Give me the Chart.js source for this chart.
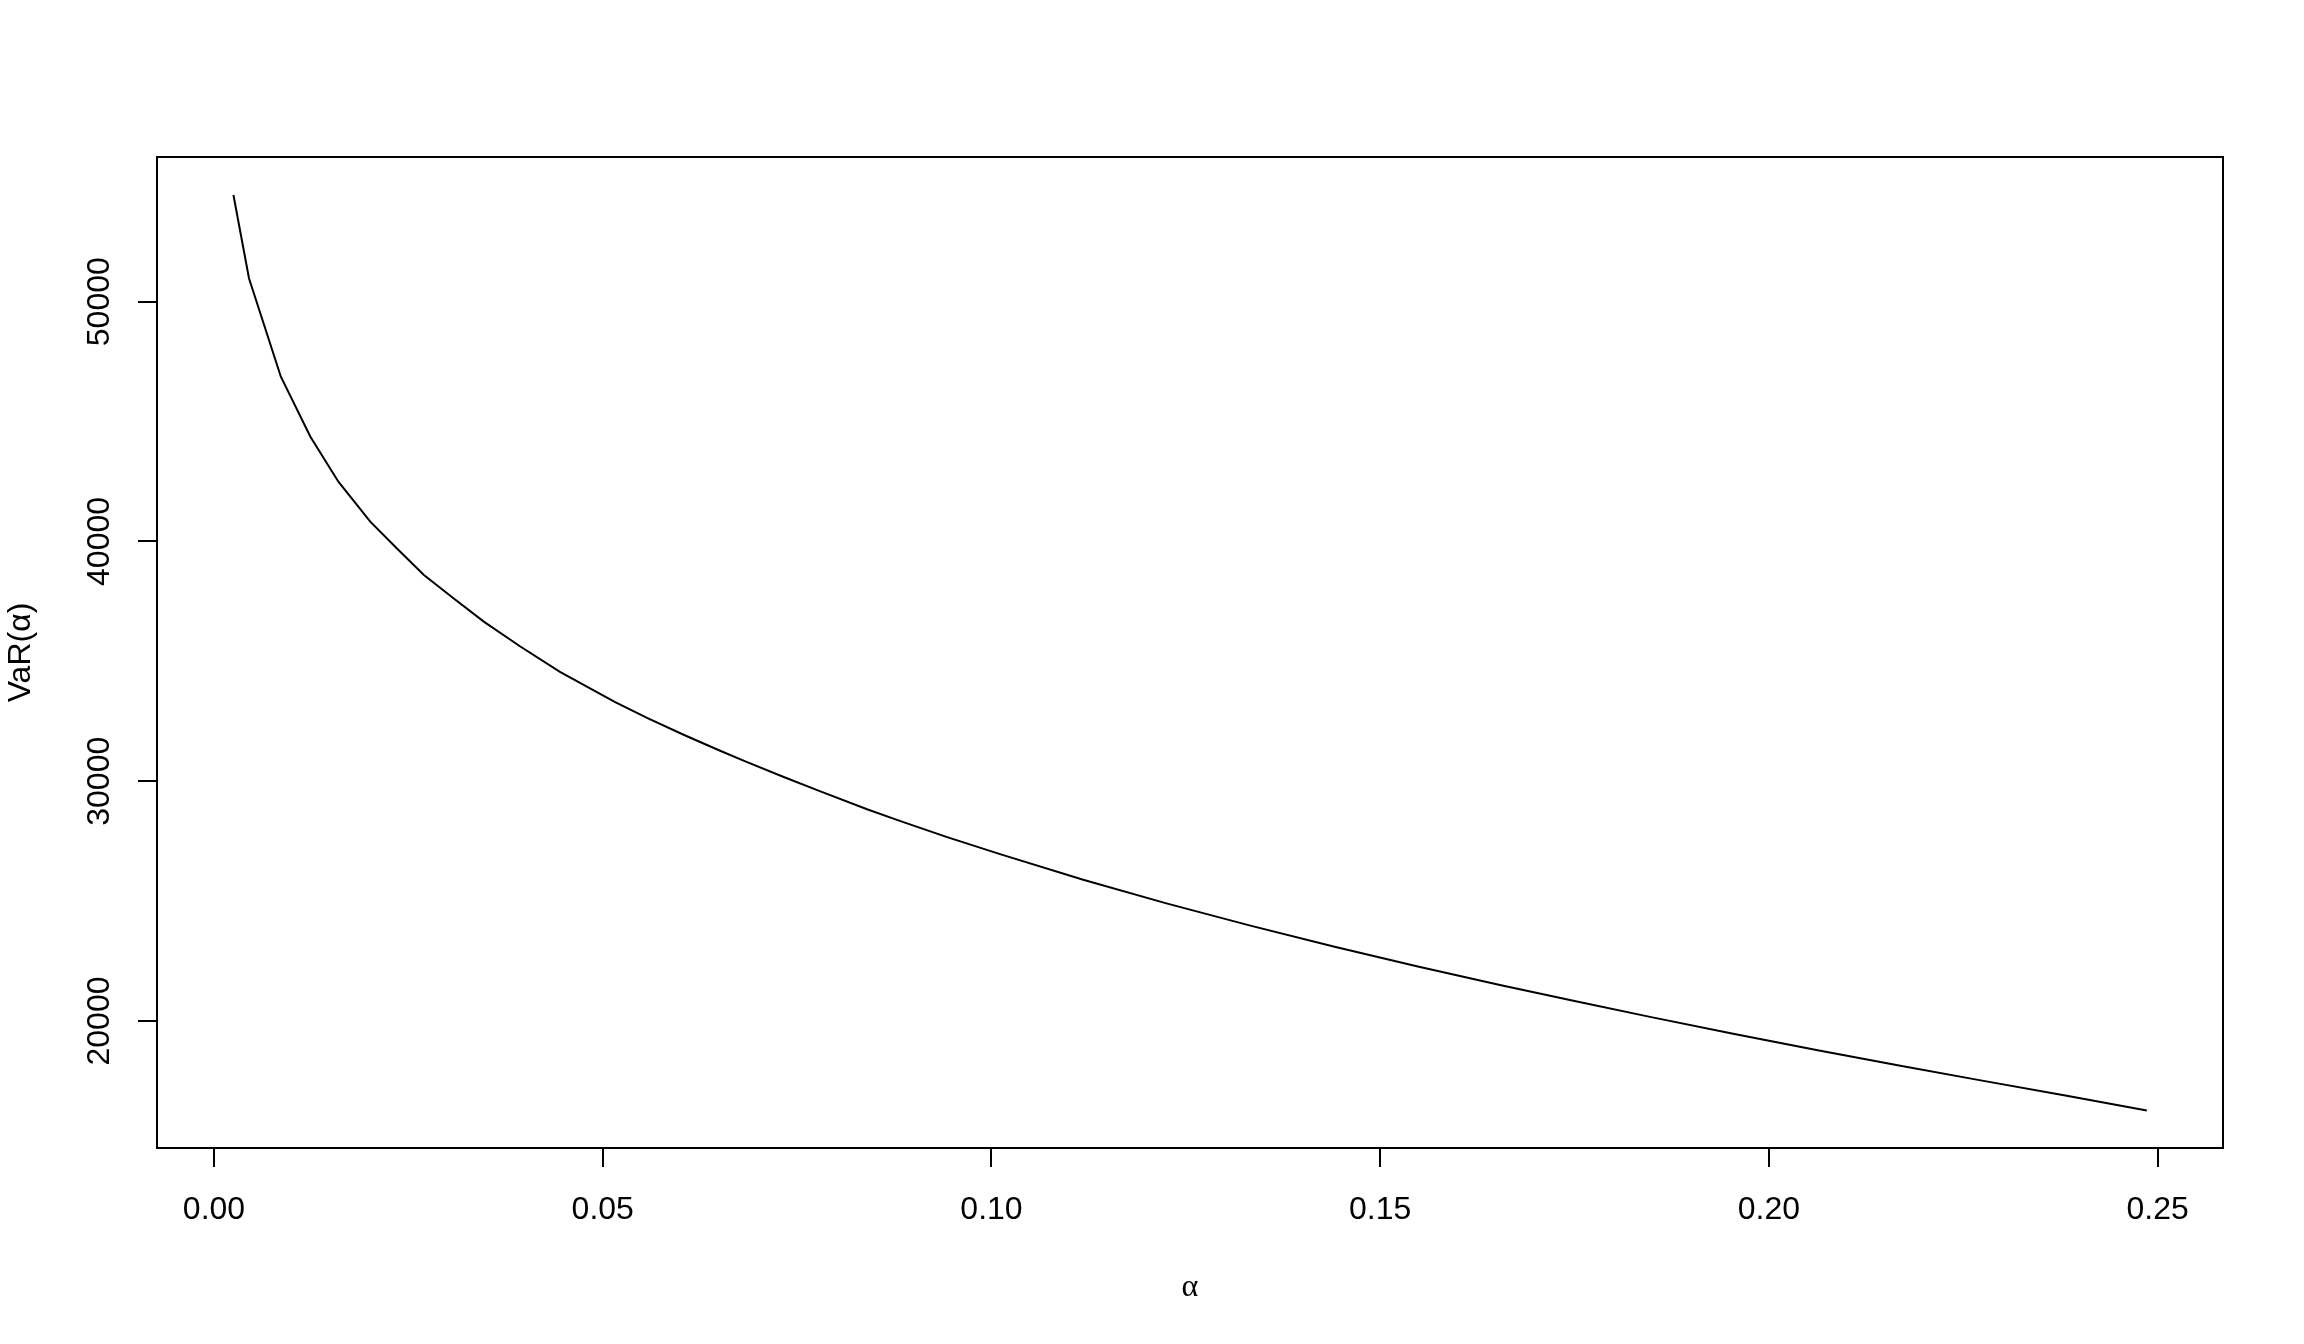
<!DOCTYPE html>
<html>
<head>
<meta charset="utf-8">
<script src="https://cdn.jsdelivr.net/npm/chart.js@4.4.1/dist/chart.umd.min.js"></script>
<style>
html,body{margin:0;padding:0;background:#fff;}
canvas{display:block;}
</style>
</head>
<body>
<canvas id="chart" width="2304" height="1344"></canvas>
<script>
/* ================= DATA ================= */

let alphaValues = [0.0025,0.0045,0.0086,0.0124,0.0160,0.0201,0.0235,0.0270,0.0308,0.0347,0.0394,0.0445,0.0516,0.0557,0.0604,0.0651,0.0685,0.0732,0.0780,0.0840,0.0882,0.0942,0.1011,0.1118,0.1225,0.1333,0.1440,0.1547,0.1654,0.1750,0.1847,0.1954,0.2061,0.2169,0.2276,0.2383,0.2486];

let varValues = [54450,50976,46872,44370,42494,40826,39716,38603,37631,36655,35620,34560,33300,32640,31940,31270,30805,30185,29575,28830,28345,27680,26960,25890,24906,23977,23110,22286,21505,20833,20173,19467,18793,18134,17503,16882,16270];

let xTicks = [0.00,0.05,0.10,0.15,0.20,0.25];
let yTicks = [20000,30000,40000,50000];

/* ================= BOX PLUGIN ================= */

const boxPlugin = {
id:"box",
beforeDraw(chart){
let ctx = chart.ctx;
ctx.save();
ctx.fillStyle = "#fff";
ctx.fillRect(0,0,chart.width,chart.height);
ctx.restore();
},
afterDraw(chart){
let a = chart.chartArea;
let ctx = chart.ctx;
ctx.save();
ctx.strokeStyle = "#000";
ctx.lineWidth = 2;
ctx.strokeRect(a.left,a.top,a.right-a.left,a.bottom-a.top);
ctx.restore();
}
};

/* ================= CHART ================= */

let font = {family:"'Liberation Sans', Arial, sans-serif", size:32};

new Chart(document.getElementById("chart"),{

type:"line",

data:{
datasets:[{
data:alphaValues.map((a,i)=>({x:a,y:varValues[i]})),
borderColor:"#000",
borderWidth:2,
pointRadius:0,
tension:0,
fill:false
}]
},

options:{
responsive:false,
animation:false,
layout:{padding:{left:0,top:157,right:81,bottom:0}},
plugins:{legend:{display:false},tooltip:{enabled:false}},
scales:{
x:{
type:"linear",
min:-0.00733,
max:0.2584,
afterBuildTicks:s=>{ s.ticks = xTicks.map(v=>({value:v})); },
afterFit:s=>{ s.height = 196; },
border:{display:false},
grid:{display:true,drawOnChartArea:false,drawTicks:true,tickLength:19,color:"#000",lineWidth:2},
ticks:{color:"#000",font:font,padding:24,minRotation:0,maxRotation:0,
callback:v=>Number(v).toFixed(2)},
title:{display:true,text:"α",color:"#000",
font:{family:"'Liberation Serif', 'Times New Roman', serif",size:32},
padding:{top:0,bottom:37}}
},
y:{
type:"linear",
min:14704,
max:56034,
afterBuildTicks:s=>{ s.ticks = yTicks.map(v=>({value:v})); },
afterFit:s=>{ s.width = 157; },
border:{display:false},
grid:{display:true,drawOnChartArea:false,drawTicks:true,tickLength:19,color:"#000",lineWidth:2},
ticks:{color:"#000",font:font,padding:-7,minRotation:90,maxRotation:90,crossAlign:"center",
callback:v=>String(v)},
title:{display:true,text:"VaR(α)",color:"#000",font:font,padding:{top:2,bottom:0}}
}
}
},

plugins:[boxPlugin]

});
</script>
</body>
</html>
